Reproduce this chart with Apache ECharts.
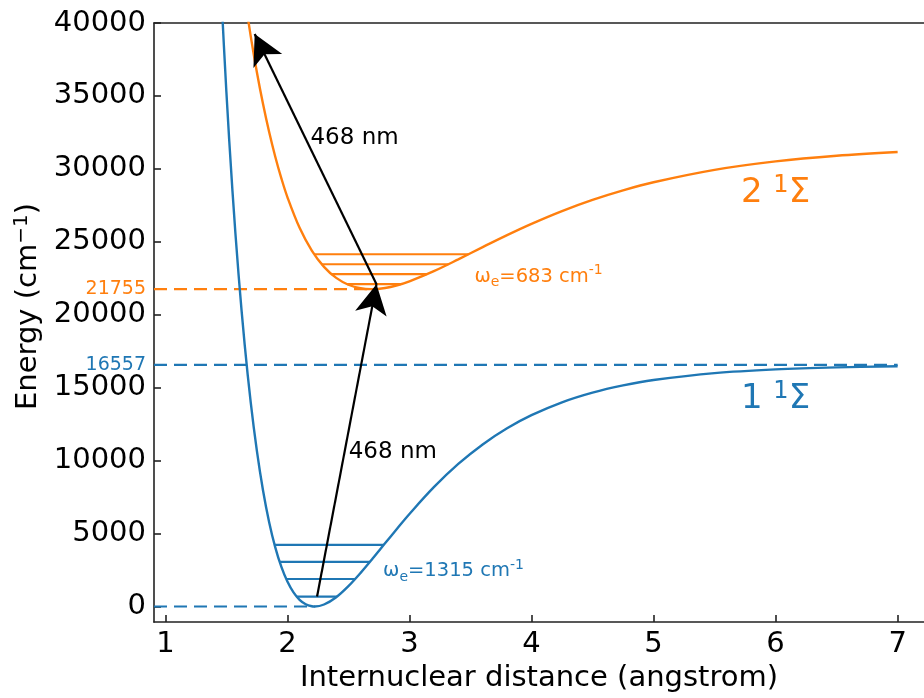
<!DOCTYPE html>
<html><head><meta charset="utf-8">
<script src="https://cdn.jsdelivr.net/npm/echarts@6/dist/echarts.min.js"></script>
<style>html,body{margin:0;padding:0;background:#fff}#c{width:924px;height:698px}</style>
</head><body><div id="c"></div>
<script>
// ---- data ----
const xTicks = [1, 2, 3, 4, 5, 6, 7];
const yTicks = [0, 5000, 10000, 15000, 20000, 25000, 30000, 35000, 40000];
const markedEnergies = [16557, 21755];

// 1 1Sigma (ground) potential curve
const groundR = [1.45, 1.5, 1.55, 1.6, 1.65, 1.7, 1.75, 1.8, 1.85, 1.9, 1.95, 2.0, 2.05, 2.1, 2.15, 2.2, 2.224, 2.3, 2.4, 2.5, 2.6, 2.7, 2.8, 2.9, 3.0, 3.2, 3.4, 3.6, 3.8, 4.0, 4.25, 4.5, 4.75, 5.0, 5.5, 6.0, 6.5, 7.0];
const groundE = [43300, 35290, 28470, 22743, 17950, 13953, 10666, 7974, 5800, 4072, 2727, 1707, 966, 460, 154, 15, 0, 135, 639, 1396, 2307, 3303, 4329, 5349, 6342, 8178, 9771, 11111, 12217, 13115, 13996, 14658, 15154, 15523, 15998, 16255, 16395, 16470];

// 2 1Sigma (excited) potential curve
const excitedR = [1.65, 1.7, 1.75, 1.8, 1.85, 1.9, 1.95, 2.0, 2.1, 2.2, 2.3, 2.4, 2.5, 2.6, 2.689, 2.8, 2.9, 3.0, 3.2, 3.4, 3.6, 3.8, 4.0, 4.25, 4.5, 4.75, 5.0, 5.5, 6.0, 6.5, 7.0];
const excitedE = [41815, 39067, 36624, 34459, 32541, 30852, 29368, 28069, 25960, 24399, 23283, 22526, 22057, 21816, 21755, 21836, 22023, 22292, 22989, 23798, 24640, 25462, 26235, 27111, 27876, 28531, 29084, 29931, 30512, 30900, 31159];

// vibrational levels
const groundLevelE = [680, 1885, 3065, 4220];
const groundLevelLeft = [2.075, 1.990, 1.936, 1.895];
const groundLevelRight = [2.406, 2.555, 2.676, 2.790];
const excitedLevelE = [22097, 22780, 23463, 24146];
const excitedLevelLeft = [2.489, 2.362, 2.281, 2.220];
const excitedLevelRight = [2.930, 3.145, 3.319, 3.483];

// reference dashed lines: energy and end r
const dashEnergy = [0, 16557, 21755];
const dashEnd = [2.224, 7.0, 2.689];

// transitions (from -> to), in r / energy
const arrowFromR = [2.243, 2.730];
const arrowFromE = [680, 22097];
const arrowToR = [2.730, 1.732];
const arrowToE = [22097, 39250];

// annotation anchors
const noteR = [2.189, 2.502, 3.532, 2.784, 5.716, 5.716];
const noteE = [32100, 10560, 22600, 2420, 28300, 14200];

// ---- chart ----
const BLUE = '#1f77b4', ORANGE = '#ff7f0e', FONT = 'DejaVu Sans', SPINE = '#222';
const X_MIN = 0.907, X_MAX = 7.216, Y_MIN = -1070, Y_MAX = 40000;
const zip = (a, b) => a.map((v, i) => [v, b[i]]);

const series = [];
const curve = (r, e, c) => ({type: 'line', data: zip(r, e), smooth: 0.35, showSymbol: false, symbol: 'none',
  lineStyle: {color: c, width: 2.4}, clip: true, silent: true, z: 3});
series.push(curve(groundR, groundE, BLUE));
series.push(curve(excitedR, excitedE, ORANGE));

groundLevelE.forEach((e, i) => series.push({type: 'line', data: [[groundLevelLeft[i], e], [groundLevelRight[i], e]],
  symbol: 'none', lineStyle: {color: BLUE, width: 2.2}, silent: true}));
excitedLevelE.forEach((e, i) => series.push({type: 'line', data: [[excitedLevelLeft[i], e], [excitedLevelRight[i], e]],
  symbol: 'none', lineStyle: {color: ORANGE, width: 2.2}, silent: true}));

dashEnergy.forEach((e, i) => series.push({type: 'line', data: [[X_MIN, e], [dashEnd[i], e]], symbol: 'none',
  lineStyle: {color: e === 21755 ? ORANGE : BLUE, width: 2.2, type: [13, 7]}, silent: true, z: 2}));

series.push({type: 'line', data: [], silent: true, z: 5,
  markLine: {silent: true, animation: false, symbol: ['none', 'arrow'], symbolSize: [24, 30],
    label: {show: false}, lineStyle: {color: '#000', width: 2.2, type: 'solid'},
    emphasis: {disabled: true},
    data: arrowFromR.map((r, i) => [{coord: [r, arrowFromE[i]]}, {coord: [arrowToR[i], arrowToE[i]]}])}});

const noteText = [
  '{k|468 nm}', '{k|468 nm}',
  '{o|ω}{os|e}{o|=683 cm}{osp|-1}',
  '{b|ω}{bs|e}{b|=1315 cm}{bsp|-1}',
  '{O|2 }{Osp|1}{O|Σ}',
  '{B|1 }{Bsp|1}{B|Σ}'
];
const rich = {
  k: {fontSize: 23, color: '#000', fontFamily: FONT},
  o: {fontSize: 19.5, color: ORANGE, fontFamily: FONT, lineHeight: 26},
  os: {fontSize: 14, color: ORANGE, fontFamily: FONT, verticalAlign: 'bottom', lineHeight: 14},
  osp: {fontSize: 14, color: ORANGE, fontFamily: FONT, verticalAlign: 'top', lineHeight: 14},
  b: {fontSize: 19.5, color: BLUE, fontFamily: FONT, lineHeight: 26},
  bs: {fontSize: 14, color: BLUE, fontFamily: FONT, verticalAlign: 'bottom', lineHeight: 14},
  bsp: {fontSize: 14, color: BLUE, fontFamily: FONT, verticalAlign: 'top', lineHeight: 14},
  O: {fontSize: 34, color: ORANGE, fontFamily: FONT, lineHeight: 40},
  Osp: {fontSize: 24, color: ORANGE, fontFamily: FONT, verticalAlign: 'top', lineHeight: 24},
  B: {fontSize: 34, color: BLUE, fontFamily: FONT, lineHeight: 40},
  Bsp: {fontSize: 24, color: BLUE, fontFamily: FONT, verticalAlign: 'top', lineHeight: 24}
};
series.push({type: 'scatter', symbolSize: 0, silent: true, z: 6, itemStyle: {opacity: 1},
  data: noteR.map((r, i) => ({value: [r, noteE[i]], label: {show: true, position: 'right', distance: 0,
    formatter: noteText[i], rich: rich}}))});

const spine = {show: true, onZero: false, lineStyle: {color: SPINE, width: 1.6}};
const ticks = (vals) => ({show: true, inside: true, length: 7, customValues: vals, lineStyle: {color: SPINE, width: 1.6}});
const option = {
  animation: false,
  backgroundColor: '#fff',
  grid: {left: 154, right: 0, top: 23, bottom: 71, containLabel: false},
  xAxis: [{
    type: 'value', min: X_MIN, max: X_MAX, position: 'bottom',
    axisLine: spine, axisTick: ticks(xTicks), splitLine: {show: false},
    axisLabel: {customValues: xTicks, fontSize: 29, color: '#000', fontFamily: FONT, margin: 8, formatter: v => String(v)},
    name: 'Internuclear distance (angstrom)', nameLocation: 'middle', nameGap: 37,
    nameTextStyle: {fontSize: 29, color: '#000', fontFamily: FONT}
  }, {
    type: 'value', min: X_MIN, max: X_MAX, position: 'top',
    axisLine: spine, axisTick: {show: false}, axisLabel: {show: false}, splitLine: {show: false}
  }],
  yAxis: [{
    type: 'value', min: Y_MIN, max: Y_MAX, position: 'left',
    axisLine: spine, axisTick: ticks(yTicks), splitLine: {show: false},
    axisLabel: {customValues: yTicks, fontSize: 29, color: '#000', fontFamily: FONT, margin: 8,
      padding: [6, 0, 0, 0], formatter: v => String(v)},
    name: '{a|Energy (cm}{s|−1}{a|)}', nameLocation: 'middle', nameGap: 108, nameRotate: 90,
    nameTextStyle: {fontSize: 29, color: '#000', fontFamily: FONT, padding: [0, 0, 0, 32],
      rich: {a: {fontSize: 29, fontFamily: FONT, color: '#000', lineHeight: 34}, s: {fontSize: 20, fontFamily: FONT, color: '#000', verticalAlign: 'top', lineHeight: 20}}}
  }, {
    type: 'value', min: Y_MIN, max: Y_MAX, position: 'left',
    axisLine: {show: false}, axisTick: {show: false}, splitLine: {show: false},
    axisLabel: {customValues: markedEnergies, fontSize: 19, fontFamily: FONT, margin: 8, padding: [7, 0, 0, 0],
      formatter: v => String(v), color: v => (Number(v) === 21755 ? ORANGE : BLUE)}
  }],
  series: series
};
const chart = echarts.init(document.getElementById('c'), null, {renderer: 'canvas'});
chart.setOption(option);
</script></body></html>
